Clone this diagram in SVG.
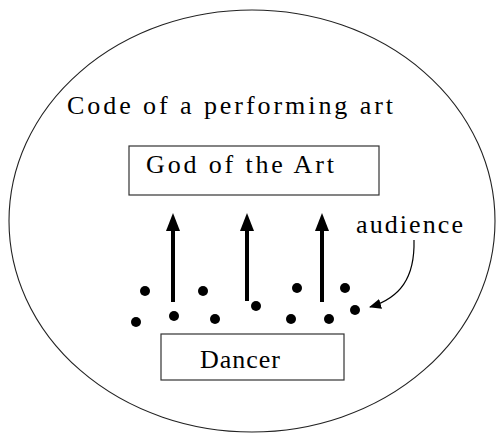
<svg xmlns="http://www.w3.org/2000/svg" width="497" height="433" viewBox="0 0 497 433">
<style>
  text { font-family: "Liberation Serif", "DejaVu Serif", serif; fill: #000; font-size: 26px; }
  .box { fill: #fff; stroke: #333; stroke-width: 1.2; }
  .dot { fill: #000; }
  .up { stroke: #000; stroke-width: 4; fill: none; marker-end: url(#head); }
</style>
<defs>
  <marker id="head" markerUnits="userSpaceOnUse" markerWidth="18" markerHeight="14" refX="3" refY="7" orient="auto" viewBox="0 0 18 14">
    <path d="M0,0 L18,7 L0,14 Z" fill="#000"/>
  </marker>
  <marker id="small" markerUnits="userSpaceOnUse" markerWidth="12" markerHeight="10" refX="11" refY="5" orient="auto" viewBox="0 0 12 10">
    <path d="M0,0 L12,5 L0,10 Z" fill="#000"/>
  </marker>
</defs>
<rect width="497" height="433" fill="#fff"/>
<g id="frame">
  <ellipse cx="252" cy="221" rx="243" ry="211" fill="none" stroke="#222" stroke-width="1.1"/>
  <text x="67" y="114" textLength="326" lengthAdjust="spacing">Code of a performing art</text>
</g>
<g id="god">
  <rect class="box" x="129" y="146" width="250" height="49"/>
  <text x="146" y="173" textLength="188" lengthAdjust="spacing">God of the Art</text>
</g>
<g id="dancer">
  <rect class="box" x="161" y="334" width="183" height="46"/>
  <text x="200" y="368" textLength="80" lengthAdjust="spacing">Dancer</text>
</g>
<g id="audience">
  <text x="356" y="233" textLength="107" lengthAdjust="spacing">audience</text>
  <circle class="dot" cx="145" cy="291" r="5"/>
  <circle class="dot" cx="203" cy="291" r="5"/>
  <circle class="dot" cx="297" cy="288" r="5"/>
  <circle class="dot" cx="345" cy="288" r="5"/>
  <circle class="dot" cx="136" cy="322" r="5"/>
  <circle class="dot" cx="174" cy="316" r="5"/>
  <circle class="dot" cx="215" cy="319" r="5"/>
  <circle class="dot" cx="256" cy="306" r="5"/>
  <circle class="dot" cx="291" cy="319" r="5"/>
  <circle class="dot" cx="329" cy="319" r="5"/>
  <circle class="dot" cx="355" cy="310" r="5"/>
</g>
<g id="connectors">
  <line class="up" x1="173" y1="302" x2="173" y2="228"/>
  <line class="up" x1="247" y1="301" x2="247" y2="228"/>
  <line class="up" x1="322" y1="302" x2="322" y2="228"/>
  <path d="M414,240 C415,278 400,298 370,307" fill="none" stroke="#000" stroke-width="1.2" marker-end="url(#small)"/>
</g>
</svg>
